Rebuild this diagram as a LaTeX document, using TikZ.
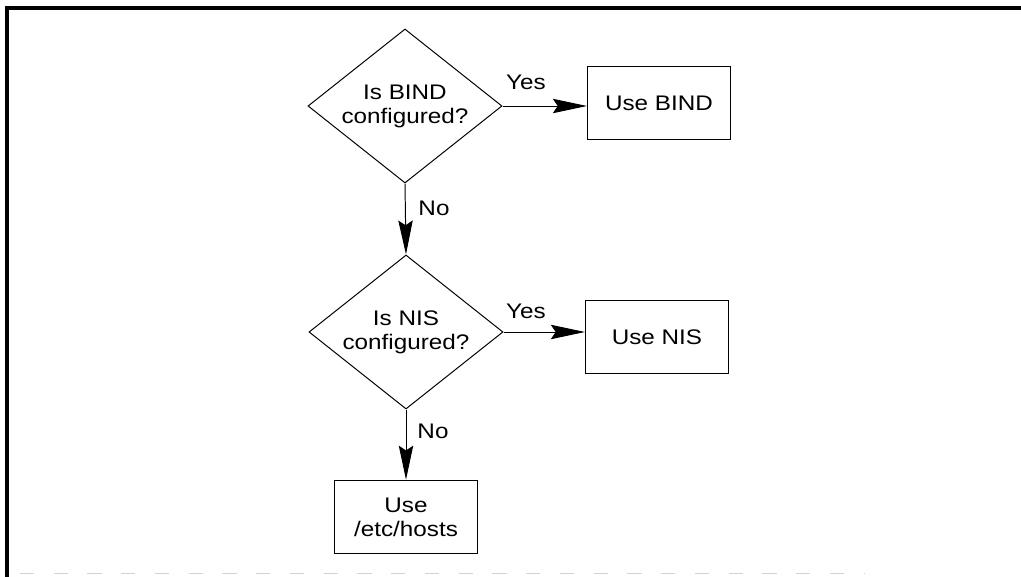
\documentclass[tikz,border=0pt]{standalone}
\usepackage{fontspec}
\setmainfont[FakeStretch=1.15]{Liberation Sans}
\usetikzlibrary{arrows.meta,shapes.geometric}

\begin{document}
\begin{tikzpicture}[x=0.025cm, y=-0.025cm,
    query/.style={draw, diamond, aspect=1.25, inner sep=0pt, line width=0.7pt,
      minimum width=4.85cm, minimum height=3.85cm, align=center},
    outcome/.style={draw, rectangle, inner sep=0pt, line width=0.7pt,
      minimum width=3.58cm, minimum height=1.84cm, align=center},
    flow/.style={-{Stealth[length=0.85cm, width=0.36cm, inset=0.12cm]}, line width=0.7pt},
    answer/.style={inner sep=0pt}]
          \useasboundingbox (0,0) rectangle (1021,577);
          \fontsize{15}{17}\selectfont

          % frame of the page
          \draw[line width=2.8pt] (1021,8) -- (5,8) -- (7,8) -- (7,577);
          \draw[gray!35, dash pattern=on 10pt off 14pt, line width=0.6pt] (20,573) -- (865,573);

          \node[query] (BindQuery) at (405,106) {Is BIND\\configured?};
          \node[outcome] (UseBind) at (659,103) {Use BIND};
          \node[query] (NisQuery) at (406,332) {Is NIS\\configured?};
          \node[outcome] (UseNis) at (657,337) {Use NIS};
          \node[outcome] (UseHosts) at (406,517) {Use\\/etc/hosts};

          \draw[flow] (BindQuery.east) to (BindQuery.east -| UseBind.west);
          \draw[flow] (BindQuery.south) to (NisQuery.north);
          \draw[flow] (NisQuery.east) to (NisQuery.east -| UseNis.west);
          \draw[flow] (NisQuery.south) to (UseHosts.north);

          \node[answer] (BindYes) at (526,82) {Yes};
          \node[answer] (BindNo) at (434,208) {No};
          \node[answer] (NisYes) at (526,311) {Yes};
          \node[answer] (NisNo) at (433,431) {No};
        \end{tikzpicture}
\end{document}
